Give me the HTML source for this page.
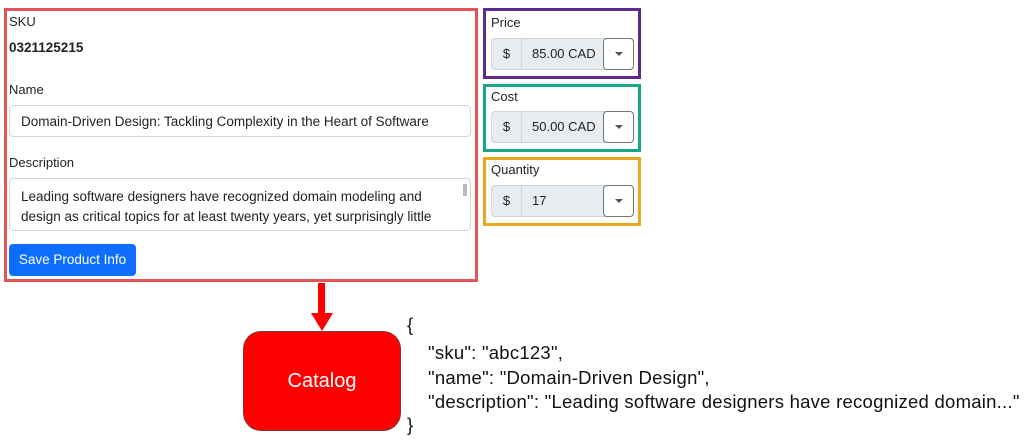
<!DOCTYPE html>
<html><head><style>
body{margin:0;width:1024px;height:444px;background:#fff;position:relative;overflow:hidden;font-family:"Liberation Sans",sans-serif;color:#222}
.a{position:absolute}
.lbl{font-size:13px;color:#222}
.inp{position:absolute;border:1px solid #ced4da;border-radius:4px;background:#fff;font-size:13.5px;box-sizing:border-box}
.grp{position:absolute;left:5px;width:143px;height:32px;border:1px solid #ced4da;border-radius:4px;background:#e9ecef;box-sizing:border-box;font-size:13px}
.grp .d{position:absolute;left:0;top:0;width:29px;height:30px;border-right:1px solid #ced4da;text-align:center;line-height:30px}
.grp .v{position:absolute;left:40px;top:0;line-height:30px}
.grp .b{position:absolute;right:-1px;top:-1px;width:31px;height:32px;border:1px solid #777;border-radius:4px;background:#fff;box-sizing:border-box}
.grp .b:after{content:"";position:absolute;left:11px;top:13px;border-left:4px solid transparent;border-right:4px solid transparent;border-top:4px solid #555}
.js{font-size:18.5px;letter-spacing:0.25px;color:#111;position:absolute;white-space:nowrap}
</style></head><body>
<div class="a" style="left:4px;top:8px;width:468px;height:268px;border:3px solid #e05555"></div>
<div class="a lbl" style="left:9px;top:14px">SKU</div>
<div class="a" style="left:9px;top:40px;font-size:13.5px;font-weight:bold">0321125215</div>
<div class="a lbl" style="left:9px;top:82px">Name</div>
<div class="inp" style="left:9px;top:105px;width:462px;height:32px;padding:8px 11px">Domain-Driven Design: Tackling Complexity in the Heart of Software</div>
<div class="a lbl" style="left:9px;top:155px">Description</div>
<div class="inp" style="left:9px;top:178px;width:462px;height:53px;padding:8px 11px;line-height:20px">Leading software designers have recognized domain modeling and<br>design as critical topics for at least twenty years, yet surprisingly little</div>
<div class="a" style="left:463px;top:184px;width:4px;height:12px;background:#bbb"></div>
<div class="a" style="left:9px;top:244px;width:127px;height:32px;background:#0d6efd;border-radius:4px;color:#fff;font-size:13.5px;line-height:32px;text-align:center">Save Product Info</div>

<div class="a" style="left:483px;top:8px;width:152px;height:65px;border:3px solid #5b2a8c">
<div class="a lbl" style="left:5px;top:4px">Price</div>
<div class="grp" style="top:27px"><div class="d">$</div><div class="v">85.00 CAD</div><div class="b"></div></div></div>
<div class="a" style="left:483px;top:84px;width:152px;height:62px;border:3px solid #1aa58a">
<div class="a lbl" style="left:5px;top:2px">Cost</div>
<div class="grp" style="top:24px"><div class="d">$</div><div class="v">50.00 CAD</div><div class="b"></div></div></div>
<div class="a" style="left:483px;top:157px;width:152px;height:63px;border:3px solid #e8a820">
<div class="a lbl" style="left:5px;top:2px">Quantity</div>
<div class="grp" style="top:25px"><div class="d">$</div><div class="v">17</div><div class="b"></div></div></div>

<div class="a" style="left:318px;top:283px;width:7px;height:31px;background:#f00"></div>
<div class="a" style="left:311px;top:313px;border-left:11px solid transparent;border-right:11px solid transparent;border-top:18px solid #f00"></div>
<div class="a" style="left:243px;top:331px;width:156px;height:98px;background:#f00;border:1px solid #7a3a3a;border-radius:18px;color:#fff;font-size:20px;text-align:center;line-height:98px">Catalog</div>

<div class="js" style="left:407px;top:314px">{</div>
<div class="js" style="left:428px;top:342px">"sku": "abc123",</div>
<div class="js" style="left:428px;top:367px">"name": "Domain-Driven Design",</div>
<div class="js" style="left:428px;top:391px">"description": "Leading software designers have recognized domain..."</div>
<div class="js" style="left:407px;top:414px">}</div>
</body></html>
